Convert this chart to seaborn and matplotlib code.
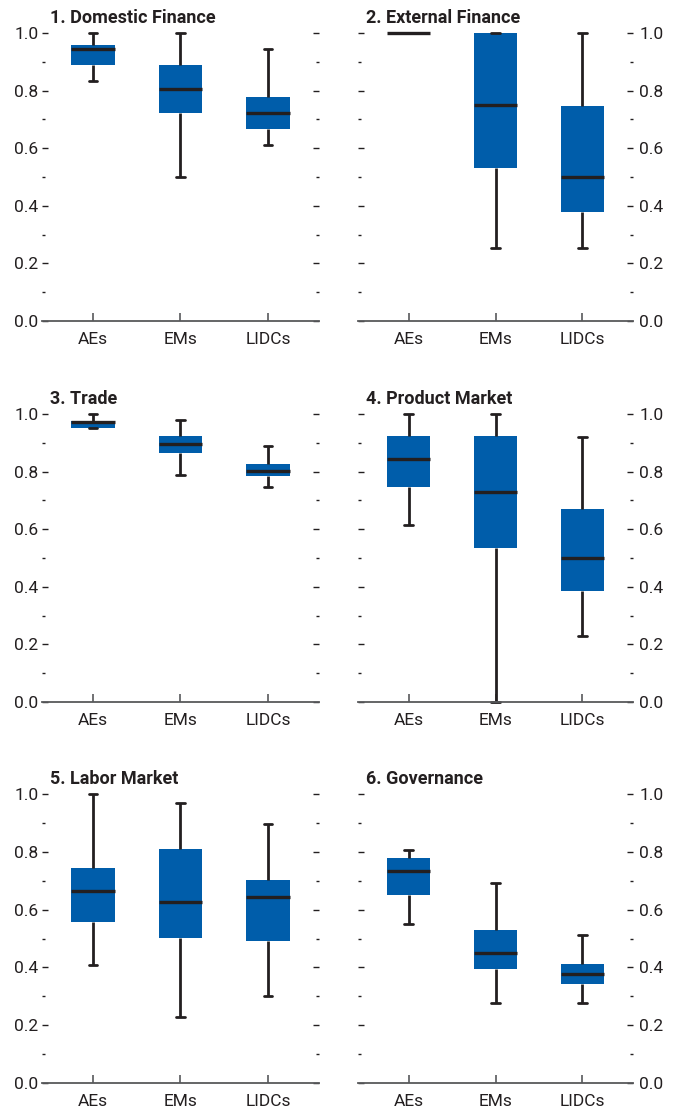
import numpy as np
import pandas as pd
import matplotlib
matplotlib.use('Agg')
import matplotlib.pyplot as plt
from matplotlib.ticker import MultipleLocator, FormatStrFormatter
import seaborn as sns

import warnings
warnings.filterwarnings('ignore')

groups = ['AEs', 'EMs', 'LIDCs']
titles = ['1. Domestic Finance', '2. External Finance', '3. Trade',
          '4. Product Market', '5. Labor Market', '6. Governance']

# five-number summaries per group: (min, q1, median, q3, max)
domestic_finance = [[0.835, 0.890, 0.945, 0.960, 1.000],
                    [0.500, 0.721, 0.806, 0.889, 1.000],
                    [0.610, 0.666, 0.723, 0.778, 0.946]]
external_finance = [[1.000, 1.000, 1.000, 1.000, 1.000],
                    [0.252, 0.531, 0.750, 1.000, 1.000],
                    [0.252, 0.379, 0.500, 0.748, 1.000]]
trade = [[0.950, 0.953, 0.971, 0.977, 1.000],
         [0.788, 0.864, 0.896, 0.922, 0.979],
         [0.747, 0.783, 0.803, 0.825, 0.889]]
product_market = [[0.614, 0.748, 0.845, 0.922, 1.000],
                  [0.000, 0.536, 0.729, 0.922, 1.000],
                  [0.230, 0.385, 0.499, 0.671, 0.920]]
labor_market = [[0.409, 0.558, 0.664, 0.743, 1.000],
                [0.228, 0.503, 0.625, 0.809, 0.969],
                [0.302, 0.491, 0.642, 0.702, 0.896]]
governance = [[0.549, 0.652, 0.732, 0.778, 0.806],
              [0.277, 0.395, 0.451, 0.528, 0.692],
              [0.276, 0.343, 0.376, 0.412, 0.512]]

panels = [domestic_finance, external_finance, trade,
          product_market, labor_market, governance]

rows = []
for title, summary in zip(titles, panels):
    for grp, five in zip(groups, summary):
        for v in five:
            rows.append({'panel': title, 'group': grp, 'value': v})
df = pd.DataFrame(rows)

blue = '#005DAA'
dark = '#231F20'
axis_grey = '#58595B'

sns.set_style('white')
plt.rcParams['font.family'] = ['Roboto', 'DejaVu Sans']
plt.rcParams['text.color'] = dark

fig = plt.figure(figsize=(6.77, 11.12), dpi=100)
W, H = 677, 1112
col_x = [(42, 319), (358, 633)]
row_y = [(33, 321), (414, 702), (794, 1083)]

for i, title in enumerate(titles):
    r, c = divmod(i, 2)
    x0, x1 = col_x[c]
    y0, y1 = row_y[r]
    ax = fig.add_axes([x0 / W, 1 - y1 / H, (x1 - x0) / W, (y1 - y0) / H])
    sub = df[df['panel'] == title]
    sns.boxplot(data=sub, x='group', y='value', order=groups, ax=ax,
                whis=(0, 100), width=0.5, color=blue, saturation=1,
                linecolor=dark, linewidth=2.0, showfliers=False,
                capwidths=0.1,
                boxprops={'edgecolor': blue, 'linewidth': 0},
                medianprops={'color': dark, 'linewidth': 2.4})
    for art in ax.lines + ax.patches:
        art.set_clip_on(False)

    ax.set_xlim(-0.583, 2.583)
    ax.set_ylim(0, 1)
    ax.set_xlabel('')
    ax.set_ylabel('')
    ax.yaxis.set_major_locator(MultipleLocator(0.2))
    ax.yaxis.set_minor_locator(MultipleLocator(0.1))
    ax.yaxis.set_major_formatter(FormatStrFormatter('%.1f'))

    for s in ['left', 'right', 'top']:
        ax.spines[s].set_visible(False)
    ax.spines['bottom'].set_color(axis_grey)
    ax.spines['bottom'].set_linewidth(1.3)

    ax.tick_params(axis='y', which='both', left=True, right=True,
                   direction='in', color=dark, labelsize=12.5,
                   labelcolor=dark, labelleft=(c == 0), labelright=(c == 1))
    ax.tick_params(axis='y', which='major', length=4.5, width=1.0,
                   pad=2.5 if c == 0 else 4.5)
    ax.tick_params(axis='y', which='minor', length=2.2, width=1.0)
    ax.tick_params(axis='x', which='both', bottom=True, top=False,
                   direction='in', length=6, width=1.2, color=axis_grey,
                   labelsize=12.5, labelcolor=dark, pad=8)

    ax.annotate(title, xy=(0, 1), xycoords='axes fraction',
                xytext=(5.8, 7.5), textcoords='offset points',
                ha='left', va='baseline', fontsize=13, fontweight='bold',
                color=dark)

fig.savefig('out.png', dpi=100)
